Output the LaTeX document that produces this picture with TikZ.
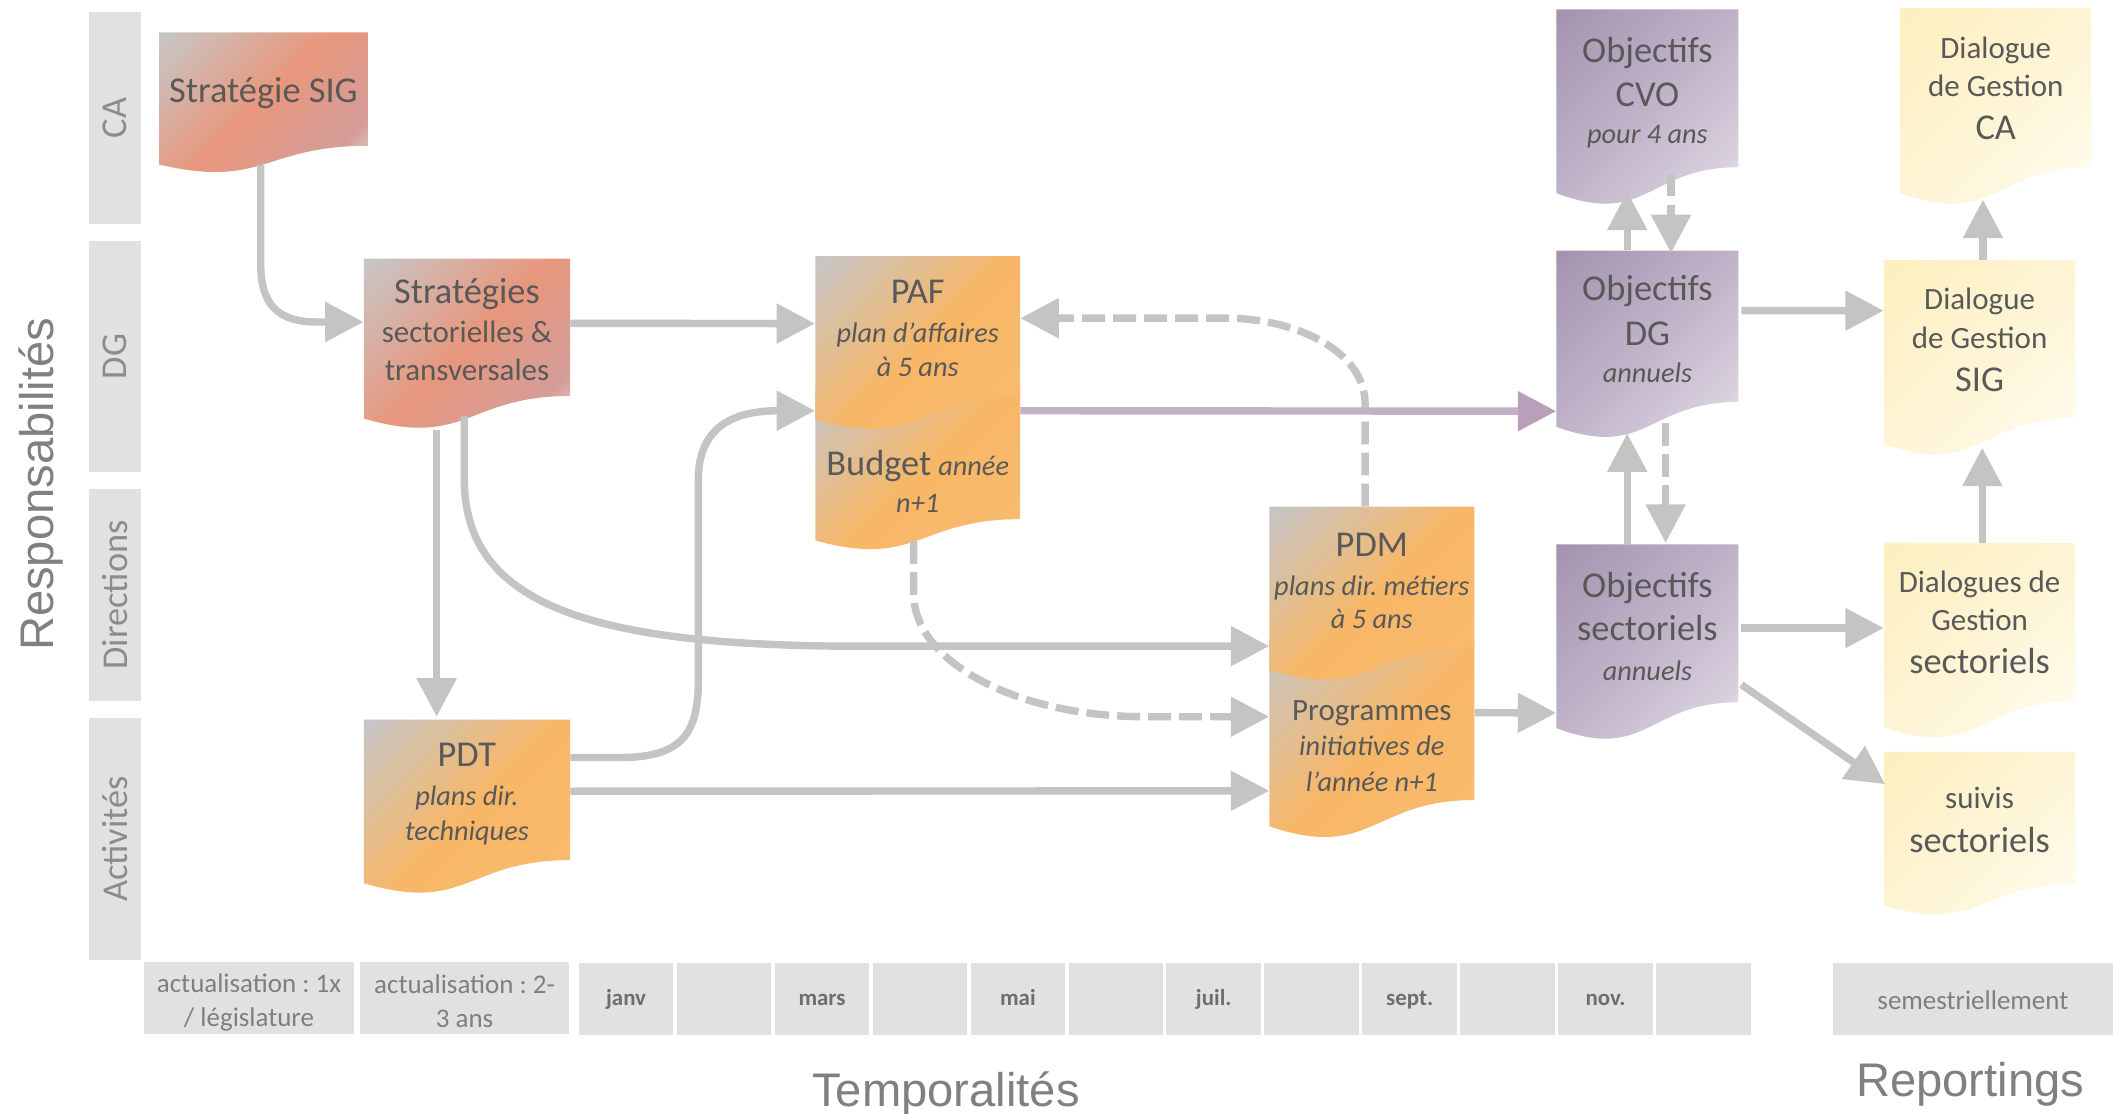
\documentclass[tikz,border=0pt]{standalone}
\usepackage{fontspec}
\setmainfont{Carlito}
\newfontfamily\arialf{Liberation Sans}
\usetikzlibrary{arrows.meta,calc}
\frenchspacing
\definecolor{txt}{HTML}{595959}
\definecolor{lane}{HTML}{E1E1E1}
\definecolor{lanetxt}{HTML}{8C8C8C}
\definecolor{celltxt}{HTML}{7F7F7F}
\definecolor{monthtxt}{HTML}{6E6E6E}
\definecolor{arr}{HTML}{C4C4C4}
\definecolor{parr}{HTML}{C2B0C4}
\definecolor{parrh}{HTML}{B8A0BB}
\definecolor{ttl}{HTML}{808080}
\definecolor{s0}{HTML}{C8C5C5}\definecolor{s1}{HTML}{E8977C}\definecolor{s2}{HTML}{D49D99}\definecolor{s3}{HTML}{F4E4E2}
\definecolor{o0}{HTML}{C7C5C4}\definecolor{o1}{HTML}{F8B766}\definecolor{o2}{HTML}{F9BA6E}\definecolor{o3}{HTML}{FDE6CC}
\definecolor{p0}{HTML}{A594B1}\definecolor{p1}{HTML}{C2B5CA}\definecolor{p2}{HTML}{D8D0DE}\definecolor{p3}{HTML}{F4F2F6}
\definecolor{y0}{HTML}{FDEFC0}\definecolor{y1}{HTML}{FEF5D6}\definecolor{y2}{HTML}{FFFAE8}\definecolor{y3}{HTML}{FFFDF4}
\pgfdeclarehorizontalshading{salmonsh}{100bp}{color(0bp)=(s0); color(16bp)=(s0); color(48bp)=(s1); color(72bp)=(s2); color(86bp)=(s3); color(100bp)=(s3)}
\pgfdeclarehorizontalshading{orangesh}{100bp}{color(0bp)=(o0); color(16bp)=(o0); color(50bp)=(o1); color(75bp)=(o2); color(86bp)=(o3); color(100bp)=(o3)}
\pgfdeclarehorizontalshading{purplesh}{100bp}{color(0bp)=(p0); color(16bp)=(p0); color(50bp)=(p1); color(72bp)=(p2); color(86bp)=(p3); color(100bp)=(p3)}
\pgfdeclarehorizontalshading{yellowsh}{100bp}{color(0bp)=(y0); color(16bp)=(y0); color(50bp)=(y1); color(72bp)=(y2); color(86bp)=(y3); color(100bp)=(y3)}
\newcommand\tbig{\fontsize{27}{29}\selectfont}
\newcommand\tmed{\fontsize{23}{29}\selectfont}
\newcommand\tita{\fontsize{21}{29}\selectfont\itshape}
\newcommand\dnl[2]{\raisebox{-#1pt}[\height][\depth]{#2}}
\newcommand\docbox[8][]{%
  \shade[shading=#7,shading angle=-45] (#3,#4) -- ({#3+#5},#4) -- ({#3+#5},{#4+0.802*#6}) .. controls ({#3+0.5*#5},{#4+0.802*#6}) and ({#3+0.5*#5},{#4+1.1075*#6}) .. (#3,{#4+0.934*#6}) -- cycle;
  \node[boxtext,minimum width={#5*1pt},minimum height={0.802*#6*1pt},#1] (#2) at ({#3+0.5*#5},{#4+0.401*#6}) {#8};}
\begin{document}
\begin{tikzpicture}[x=1pt,y=-1pt,
  boxtext/.style={inner sep=0pt,align=center,text=txt,font=\tmed},
  lanebox/.style={fill=lane,inner sep=0pt,text=lanetxt,font=\fontsize{27}{30}\selectfont,rotate=90,minimum height=39pt},
  tcell/.style={fill=lane,inner sep=0pt,align=center,text=celltxt,font=\fontsize{20}{25}\selectfont,minimum height=53.5pt},
  mcell/.style={fill=lane,inner sep=0pt,text=monthtxt,font=\fontsize{17}{20}\selectfont\bfseries,minimum height=53.5pt,minimum width=70.2pt,text height=12pt,text depth=3pt},
  bigtitle/.style={text=ttl,font=\arialf\fontsize{35}{40}\selectfont,inner sep=0pt,anchor=base},
  conn/.style={draw=arr,line width=5.5pt,-{Triangle[length=28.5pt,width=28.5pt]}},
  dconn/.style={conn,dash pattern=on 17pt off 6pt},
  pconn/.style={draw=parr,line width=5.5pt,-{Triangle[length=28.5pt,width=28.5pt,color=parrh]}}]
\useasboundingbox (0,0) rectangle (1568,826);
\fill[white] (0,0) rectangle (1568,826);
% lanes
\node[lanebox,minimum width=157pt] (lca) at (85.5,87.5) {CA};
\node[lanebox,minimum width=171pt] (ldg) at (85.5,264.5) {DG};
\node[lanebox,minimum width=157pt] (ldir) at (85.5,441.5) {Directions};
\node[lanebox,minimum width=179.4pt] (lact) at (85.5,622.7) {Activités};
% titles
\node[bigtitle,rotate=90] (resp) at (40,359.5) {Responsabilités};
\node[bigtitle] (temp) at (702,821) {Temporalités};
\node[bigtitle] (rep) at (1462,814) {Reportings};
% timeline
\node[tcell,minimum width=155.5pt] (t1) at (184.75,740.75) {\dnl{3}{actualisation : 1x}\\\dnl{3}{/ législature}};
\node[tcell,minimum width=155.5pt] (t2) at (344.75,740.75) {\dnl{2}{actualisation : 2-}\\\dnl{2}{3 ans}};
\foreach \i/\lab in {0/janv,1/{},2/mars,3/{},4/mai,5/{},6/juil.,7/{},8/sept.,9/{},10/nov.,11/{}}
  \node[mcell] (m\i) at ({464.6+72.68*\i},741.5) {\lab};
\node[tcell,minimum width=208pt] (sem) at (1464,741) {\dnl{1}{semestriellement}};
% boxes
\docbox{sig}{118}{24}{155}{105}{salmonsh}{\dnl{3}{\tbig Stratégie SIG}}
\docbox{strat}{270}{192}{153}{127}{salmonsh}{\dnl{2}{\tbig Stratégies}\\\dnl{2}{\tmed sectorielles \&}\\\dnl{1.5}{\tmed transversales}}
\docbox[yshift=-20pt]{budget}{605}{289}{152}{120}{orangesh}{{\tbig Budget} {\tita année}\\[-2pt]{\tita n+1}}
\docbox{paf}{605}{190}{152}{130}{orangesh}{\dnl{2}{\tbig PAF}\\\dnl{2}{\tita plan d’affaires}\\[-3pt]\dnl{1.5}{\tita à 5 ans}}
\docbox{pdt}{270}{534}{153}{130}{orangesh}{\dnl{3}{\tbig PDT}\\\dnl{3}{\tita plans dir.}\\[-3pt]\dnl{3}{\tita techniques}}
\docbox[yshift=-18.5pt]{prog}{942}{475}{152}{148}{orangesh}{\dnl{1}{\tmed Programmes}\\[-3pt]\dnl{1}{\tita initiatives de}\\[-2pt]\dnl{1}{\tita l’année n+1}}
\docbox{pdm}{942}{376}{152}{130}{orangesh}{\dnl{3}{\tbig PDM}\\\dnl{3}{\tita plans dir. métiers}\\[-4pt]\dnl{2.5}{\tita à 5 ans}}
\docbox{cvo}{1155}{7}{135}{146}{purplesh}{\dnl{4}{\tbig Objectifs}\\[4pt]\dnl{4}{\tbig CVO}\\\dnl{2.5}{\tita pour 4 ans}}
\docbox{odg}{1155}{186}{135}{140}{purplesh}{\dnl{2.5}{\tbig Objectifs}\\[4pt]\dnl{3}{\tbig DG}\\\dnl{1.5}{\tita annuels}}
\docbox{osect}{1155}{404}{135}{146}{purplesh}{\dnl{3}{\tbig Objectifs}\\[3pt]\dnl{3}{\tbig sectoriels}\\[2pt]\dnl{1.5}{\tita annuels}}
\docbox{dca}{1410}{6}{142}{147}{yellowsh}{{\tmed Dialogue}\\[-1pt]{\tmed de Gestion}\\[2pt]\dnl{1}{\tbig CA}}
\docbox{dsig}{1398}{193}{142}{146}{yellowsh}{{\tmed Dialogue}\\{\tmed de Gestion}\\[2pt]\dnl{1}{\tbig SIG}}
\docbox{dsect}{1398}{403}{142}{146}{yellowsh}{{\tmed Dialogues de}\\[-1pt]{\tmed Gestion}\\[2pt]\dnl{1}{\tbig sectoriels}}
\docbox{suivis}{1398}{558}{142}{122}{yellowsh}{\dnl{1}{\tmed suivis}\\[3pt]\dnl{2}{\tbig sectoriels}}
% connectors
\draw[conn] ($(sig.south)+(-2,14)$) -- ++(0,74) .. controls +(0,30) and +(-28,0) .. ($(strat.west)+(-35,-4)$) -- ($(strat.west)+(0,-4)$);
\draw[conn] ($(strat.east)+(0,-3)$) -- ($(paf.west)+(0,-2)$);
\draw[conn] ($(strat.south)+(-22.5,25)$) -- ($(pdt.north)+(-22.5,-2)$);
\draw[conn] ($(strat.south)+(-2,15)$) -- ++(0,46) .. controls +(0,90) and +(-190,-2) .. ($(pdm.south west)+(-322,-1)$) -- ($(pdm.south west)+(0,-1)$);
\draw[conn] ($(pdt.east)+(0,-24)$) -- ++(37,0) .. controls +(45,0) and +(0,40) .. ++(58,-57) -- ++(0,-149) .. controls +(0,-36) and +(-38,0) .. ($(budget.north west)+(-27,-4)$) -- ($(budget.north west)+(0,-4)$);
\draw[conn] ($(pdt.east)+(0,1)$) -- ($(prog.west)+(0,34)$);
\draw[dconn] ($(pdm.north)+(-5,0)$) -- ++(0,-76) .. controls +(0,-40) and +(50,0) .. ($(paf.east)+(153,-6)$) -- ($(paf.east)+(0,-6)$);
\draw[pconn] ($(budget.north east)+(0,-4)$) -- ($(odg.west)+(0,63)$);
\draw[dconn] ($(budget.south)+(-3,-4)$) -- ++(0,39) .. controls +(0,51) and +(-95,0) .. ($(prog.west)+(-92,-21)$) -- ($(prog.west)+(0,-21)$);
\draw[conn] ($(prog.east)+(0,-24)$) -- ($(osect.west)+(0,66.5)$);
\draw[conn] ($(odg.north)+(-15,0)$) -- ($(cvo.south)+(-15,18)$);
\draw[dconn] ($(cvo.south)+(17.5,4.5)$) -- ($(odg.north)+(17.5,2)$);
\draw[conn] ($(osect.north)+(-15,0)$) -- ($(odg.south)+(-15,23.2)$);
\draw[dconn] ($(odg.south)+(13.5,15.7)$) -- ($(osect.north)+(13.5,-1)$);
\draw[conn] ($(odg.east)+(2,-11.6)$) -- ($(dsig.west)+(0,-21)$);
\draw[conn] ($(dsig.north)+(2.5,0)$) -- ($(dca.south)+(-9.5,24.1)$);
\draw[conn] ($(dsect.north)+(2,0)$) -- ($(dsig.south)+(2,22)$);
\draw[conn] ($(osect.east)+(2,3.5)$) -- ($(dsect.west)+(0,4.5)$);
\draw[conn] ($(osect.east)+(2,45.5)$) -- ($(suivis.west)+(1,-25)$);
\end{tikzpicture}
\end{document}
